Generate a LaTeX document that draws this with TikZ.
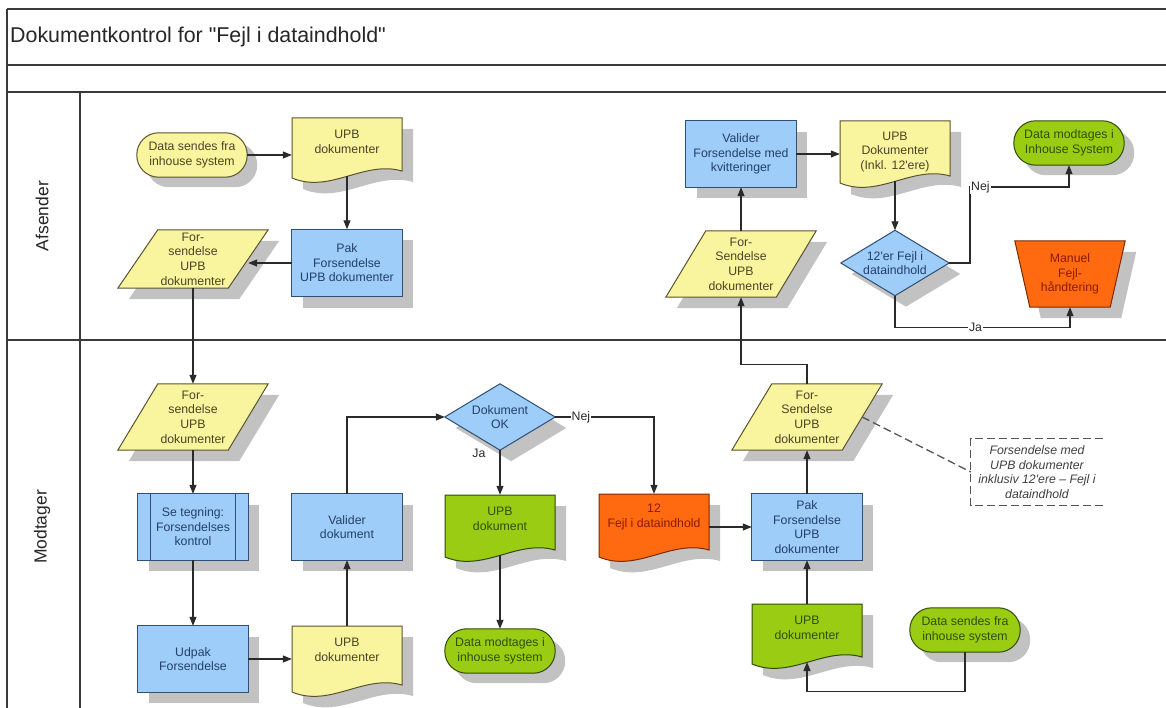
\documentclass[tikz,border=0pt]{standalone}
\usepackage{fontspec}
\setmainfont{Liberation Sans}
\usetikzlibrary{arrows.meta,calc}
\definecolor{yelf}{HTML}{F9F59E}
\definecolor{yeld}{HTML}{5A5230}
\definecolor{yelt}{HTML}{4A4426}
\definecolor{bluef}{HTML}{9DCDF8}
\definecolor{blued}{HTML}{2F4F73}
\definecolor{bluet}{HTML}{24406A}
\definecolor{greenf}{HTML}{9ACC14}
\definecolor{greend}{HTML}{2F4A05}
\definecolor{greent}{HTML}{2E5000}
\definecolor{orf}{HTML}{FF6A10}
\definecolor{ord}{HTML}{7A2A00}
\definecolor{ort}{HTML}{8A1C00}
\definecolor{shadowc}{HTML}{C2C2C2}
\definecolor{linec}{HTML}{2A2A2A}
\definecolor{framec}{HTML}{3A3A3A}
\definecolor{dashc}{HTML}{555555}
\pgfdeclarelayer{shadow}
\pgfdeclarelayer{background}
\pgfsetlayers{shadow,background,main}
\tikzset{
  lbase/.style={font=\fontsize{12.3}{14.6}\selectfont, align=center, inner sep=1pt},
  pY/.style={fill=yelf, draw=yeld, line width=1pt},
  pB/.style={fill=bluef, draw=blued, line width=1pt},
  pG/.style={fill=greenf, draw=greend, line width=1pt},
  pO/.style={fill=orf, draw=ord, line width=1pt},
  tY/.style={text=yelt},
  tB/.style={text=bluet},
  tG/.style={text=greent},
  tO/.style={text=ort},
  shd/.style={fill=shadowc},
  conn/.style={draw=linec, line width=1.1pt, -{Triangle[length=9pt,width=7pt]}},
  lbl/.style={font=\fontsize{12.3}{14.6}\selectfont, text=linec, fill=white, inner sep=1pt},
  frame/.style={draw=framec, line width=1.5pt},
  annot/.style={font=\itshape\fontsize{12.3}{14.7}\selectfont, text=black!75, align=center, inner sep=1pt, minimum width=132pt, minimum height=67pt},
  dashline/.style={draw=dashc, line width=1.3pt, dash pattern=on 8pt off 4pt},
}
% rectangle
\newcommand{\RectShape}[7]{%
  \node[lbase, t#6, minimum width=#4pt, minimum height=#5pt] (#1) at (#2,#3) {#7};
  \begin{pgfonlayer}{shadow}
    \fill[shd] ([shift={(11,11)}]#1.north west) rectangle ([shift={(11,11)}]#1.south east);
  \end{pgfonlayer}
  \begin{pgfonlayer}{background}
    \path[p#6] (#1.north west) rectangle (#1.south east);
  \end{pgfonlayer}}
% predefined process
\newcommand{\PredShape}[5]{%
  \node[lbase, t#4, minimum width=110pt, minimum height=66pt] (#1) at (#2,#3) {#5};
  \begin{pgfonlayer}{shadow}
    \fill[shd] ([shift={(11,11)}]#1.north west) rectangle ([shift={(11,11)}]#1.south east);
  \end{pgfonlayer}
  \begin{pgfonlayer}{background}
    \path[p#4] (#1.north west) rectangle (#1.south east);
    \path[p#4, fill=none] ([xshift=13pt]#1.north west) -- ([xshift=13pt]#1.south west)
      ([xshift=-13pt]#1.north east) -- ([xshift=-13pt]#1.south east);
  \end{pgfonlayer}}
% terminal
\newcommand{\TermShape}[5]{%
  \node[lbase, t#4, minimum width=110pt, minimum height=44pt] (#1) at (#2,#3) {#5};
  \begin{pgfonlayer}{shadow}
    \fill[shd, rounded corners=21.9pt] ([shift={(10,10)}]#1.north west) rectangle ([shift={(10,10)}]#1.south east);
  \end{pgfonlayer}
  \begin{pgfonlayer}{background}
    \path[p#4, rounded corners=21.9pt] (#1.north west) rectangle (#1.south east);
  \end{pgfonlayer}}
% diamond
\newcommand{\DiaShape}[7]{%
  \node[lbase, t#6, minimum width=#4pt, minimum height=#5pt, inner sep=0pt] (#1) at (#2,#3) {#7};
  \begin{pgfonlayer}{shadow}
    \fill[shd] ([shift={(11,11)}]#1.north) -- ([shift={(11,11)}]#1.east) -- ([shift={(11,11)}]#1.south) -- ([shift={(11,11)}]#1.west) -- cycle;
  \end{pgfonlayer}
  \begin{pgfonlayer}{background}
    \path[p#6] (#1.north) -- (#1.east) -- (#1.south) -- (#1.west) -- cycle;
  \end{pgfonlayer}}
% parallelogram
\newcommand{\ParaShape}[6]{%
  \node[lbase, t#5, minimum width=110pt, minimum height=#4pt, inner sep=0pt] (#1) at (#2,#3) {#6};
  \begin{pgfonlayer}{shadow}
    \fill[shd] ([shift={(31,11)}]#1.north west) -- ([shift={(31,11)}]#1.north east) -- ([shift={(-9,11)}]#1.south east) -- ([shift={(-9,11)}]#1.south west) -- cycle;
  \end{pgfonlayer}
  \begin{pgfonlayer}{background}
    \path[p#5] ([xshift=20pt]#1.north west) -- ([xshift=20pt]#1.north east) -- ([xshift=-20pt]#1.south east) -- ([xshift=-20pt]#1.south west) -- cycle;
  \end{pgfonlayer}}
% manual operation (trapezoid)
\newcommand{\TrapShape}[5]{%
  \node[lbase, t#4, minimum width=110pt, minimum height=66pt, inner sep=0pt] (#1) at (#2,#3) {#5};
  \begin{pgfonlayer}{shadow}
    \fill[shd] ([shift={(11,11)}]#1.north west) -- ([shift={(11,11)}]#1.north east) -- ([shift={(-4,11)}]#1.south east) -- ([shift={(26,11)}]#1.south west) -- cycle;
  \end{pgfonlayer}
  \begin{pgfonlayer}{background}
    \path[p#4] (#1.north west) -- (#1.north east) -- ([xshift=-15pt]#1.south east) -- ([xshift=15pt]#1.south west) -- cycle;
  \end{pgfonlayer}}
% document with wavy bottom: name, cx, top, mean bottom, text cy, palette, text
\newcommand{\DocShape}[7]{%
  \pgfmathsetmacro\docL{#2-55}\pgfmathsetmacro\docR{#2+55}%
  \pgfmathsetmacro\docA{#4-5}\pgfmathsetmacro\docB{#4+2}%
  \pgfmathsetmacro\docCa{#2+55-38}\pgfmathsetmacro\docCb{#2-55+38}%
  \pgfmathsetmacro\docYa{#4-16}\pgfmathsetmacro\docYb{#4+18}%
  \pgfmathsetmacro\docH{2*(#5-#3)}%
  \node[lbase, t#6, minimum width=110pt, minimum height=\docH pt, inner sep=0pt] (#1) at (#2,#5) {#7};
  \coordinate (#1-b) at (#2,#4);
  \begin{pgfonlayer}{shadow}
    \fill[shd, shift={(11,11)}] (\docL,#3) -- (\docR,#3) -- (\docR,\docA) .. controls (\docCa,\docYa) and (\docCb,\docYb) .. (\docL,\docB) -- cycle;
  \end{pgfonlayer}
  \begin{pgfonlayer}{background}
    \path[p#6] (\docL,#3) -- (\docR,#3) -- (\docR,\docA) .. controls (\docCa,\docYa) and (\docCb,\docYb) .. (\docL,\docB) -- cycle;
  \end{pgfonlayer}}

\begin{document}
\begin{tikzpicture}[x=1pt,y=-1pt]
\useasboundingbox (0,0) rectangle (1166,708);
\begin{pgfonlayer}{shadow}
  \fill[white] (0,0) rectangle (1166,708);
  \draw[frame] (7,9) -- (1166,9);
  \draw[frame] (7,65) -- (1166,65);
  \draw[frame] (7,92) -- (1166,92);
  \draw[frame] (7,340) -- (1166,340);
  \draw[frame, line width=1.2pt] (7,9) -- (7,708);
  \draw[frame, line width=1.2pt] (80,92) -- (80,708);
\end{pgfonlayer}

\node[anchor=west, font=\fontsize{21.4}{25}\selectfont, text=black!85, inner sep=0pt] (title) at (10,37) {Dokumentkontrol for \textquotedbl Fejl i dataindhold\textquotedbl};
\node[rotate=90, font=\fontsize{17.5}{20}\selectfont, text=black!85] (lane1) at (42,216) {Afsender};
\node[rotate=90, font=\fontsize{17.5}{20}\selectfont, text=black!85] (lane2) at (42,527) {Modtager};

% Afsender
\TermShape{a1}{192}{155}{Y}{Data sendes fra\\inhouse system}
\DocShape{a2}{347}{118}{176}{142}{Y}{UPB\\dokumenter}
\RectShape{a3}{347}{263}{110}{67}{B}{Pak\\Forsendelse\\UPB dokumenter}
\ParaShape{a4}{193}{259}{58}{Y}{For-\\sendelse\\UPB\\dokumenter}
\ParaShape{a5}{741}{264}{66}{Y}{For-\\Sendelse\\UPB\\dokumenter}
\RectShape{a6}{741}{154}{110}{66}{B}{Valider\\Forsendelse med\\kvitteringer}
\DocShape{a7}{895}{121}{181}{152}{Y}{UPB\\Dokumenter\\(Inkl. 12\textquotesingle ere)}
\DiaShape{a8}{895}{263}{108}{65}{B}{12\textquotesingle er Fejl i\\dataindhold}
\TermShape{a9}{1069}{143}{G}{Data modtages i\\Inhouse System}
\TrapShape{a10}{1070}{274}{O}{Manuel\\Fejl-\\håndtering}

% Modtager
\ParaShape{m1}{193}{417}{66}{Y}{For-\\sendelse\\UPB\\dokumenter}
\PredShape{m2}{193}{527}{B}{Se tegning:\\Forsendelses\\kontrol}
\RectShape{m3}{193}{659}{110}{66}{B}{Udpak\\Forsendelse}
\RectShape{m4}{347}{527}{110}{66}{B}{Valider\\dokument}
\DocShape{m5}{347}{626}{690}{650}{Y}{UPB\\dokumenter}
\DiaShape{m6}{500}{417}{110}{66}{B}{Dokument\\OK}
\DocShape{m7}{500}{495}{555}{519}{G}{UPB\\dokument}
\TermShape{m8}{500}{651}{G}{Data modtages i\\inhouse system}
\DocShape{m9}{654}{494}{555}{517}{O}{12\\Fejl i dataindhold}
\RectShape{m10}{807}{527}{110}{66}{B}{Pak\\Forsendelse\\UPB\\dokumenter}
\ParaShape{m11}{807}{417}{66}{Y}{For-\\Sendelse\\UPB\\dokumenter}
\DocShape{m12}{807}{604}{662}{628}{G}{UPB\\dokumenter}
\TermShape{m13}{965}{630}{G}{Data sendes fra\\inhouse system}

\node[annot] (ann) at (1037,472) {Forsendelse med\\UPB dokumenter\\inklusiv 12\textquotesingle ere – Fejl i\\dataindhold};
\draw[dashline] (ann.north east) -- (ann.north west) -- (ann.south west) -- (ann.south east);
\draw[dashline] (m11.east) -- (ann.west);

% connectors Afsender
\draw[conn] (a1.east) -- (a1.east -| a2.west);
\draw[conn] (a2-b) -- (a3.north);
\draw[conn] (a3.west) -- (a3.west -| a4.east);
\draw[conn] (a4.south) -- (m1.north);
\draw[conn] (a5.north) -- (a6.south);
\draw[conn] (a6.east) -- (a6.east -| a7.west);
\draw[conn] (a7-b) -- (a8.north);
\coordinate (nejc) at (970,187);
\draw[conn] (a8.east) -| (nejc) -| (a9.south);
\node[lbl, anchor=west] (nej1) at (nejc) {Nej};
\draw[conn] (a8.south) -- ++(0,32) -| node[lbl, pos=0.23] (ja1) {Ja} (a10.south);

% connectors Modtager
\draw[conn] (m1.south) -- (m2.north);
\draw[conn] (m2.south) -- (m3.north);
\draw[conn] (m3.east) -- (m3.east -| m5.west);
\draw[conn] (m5.north) -- (m4.south);
\draw[conn] (m4.north) |- (m6.west);
\draw[conn] (m6.south) -- node[lbl, fill=none, pos=0.07, left=13pt] (ja2) {Ja} (m7.north);
\draw[conn] (m6.east) -| node[lbl, pos=0.13] (nej2) {Nej} (m9.north);
\draw[conn] (m7-b) -- (m8.north);
\draw[conn] (m10.west -| m9.east) -- (m10.west);
\draw[conn] (m12.north) -- (m10.south);
\draw[conn] (m10.north) -- (m11.south);
\draw[conn] (m13.south) -- ++(0,39) -| (m12-b);
\draw[conn] (m11.north) -- ++(0,-19) -| (a5.south);
\end{tikzpicture}
\end{document}
